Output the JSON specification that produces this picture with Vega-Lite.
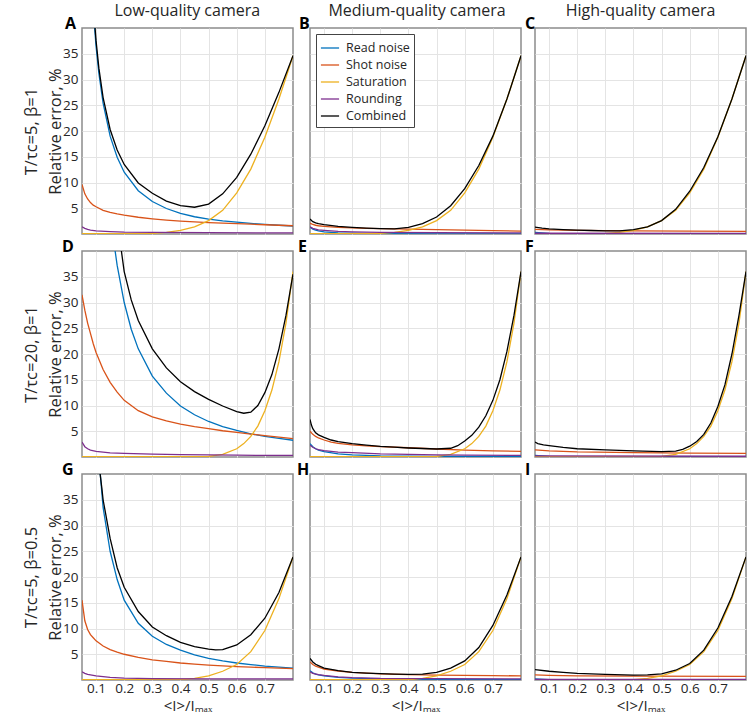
{
"$schema": "https://vega.github.io/schema/vega-lite/v6.json",
"background": "white",
"padding": {"left": 22, "top": 3, "right": 0, "bottom": 0},
"config": {
 "font": "Open Sans",
 "view": {"stroke": "#8c8c8c", "strokeWidth": 1.5},
 "axis": {"grid": true, "gridColor": "#e4e4e4", "ticks": false, "domain": false, "labelFontSize": 13.5, "labelColor": "#262626", "titleFontWeight": "normal", "titleFontSize": 16, "titleColor": "#262626", "labelPadding": 4},
 "title": {"frame": "group"},
 "line": {"clip": true}
},
"data": {"values": [
{"p":"A","s":"Read noise","x":0.08,"y":52},{"p":"A","s":"Read noise","x":0.09,"y":43.5},{"p":"A","s":"Read noise","x":0.1,"y":36.4},{"p":"A","s":"Read noise","x":0.11,"y":31.2},{"p":"A","s":"Read noise","x":0.125,"y":25.4},{"p":"A","s":"Read noise","x":0.15,"y":19.0},{"p":"A","s":"Read noise","x":0.175,"y":14.9},{"p":"A","s":"Read noise","x":0.2,"y":12.0},{"p":"A","s":"Read noise","x":0.25,"y":8.4},{"p":"A","s":"Read noise","x":0.3,"y":6.3},{"p":"A","s":"Read noise","x":0.35,"y":4.95},{"p":"A","s":"Read noise","x":0.4,"y":4.0},{"p":"A","s":"Read noise","x":0.45,"y":3.35},{"p":"A","s":"Read noise","x":0.5,"y":2.9},{"p":"A","s":"Read noise","x":0.55,"y":2.55},{"p":"A","s":"Read noise","x":0.6,"y":2.3},{"p":"A","s":"Read noise","x":0.65,"y":2.05},{"p":"A","s":"Read noise","x":0.7,"y":1.85},{"p":"A","s":"Read noise","x":0.75,"y":1.7},{"p":"A","s":"Read noise","x":0.8,"y":1.55},
{"p":"A","s":"Shot noise","x":0.05,"y":9.6},{"p":"A","s":"Shot noise","x":0.06,"y":7.8},{"p":"A","s":"Shot noise","x":0.07,"y":6.8},{"p":"A","s":"Shot noise","x":0.08,"y":6.1},{"p":"A","s":"Shot noise","x":0.09,"y":5.6},{"p":"A","s":"Shot noise","x":0.1,"y":5.3},{"p":"A","s":"Shot noise","x":0.125,"y":4.6},{"p":"A","s":"Shot noise","x":0.15,"y":4.2},{"p":"A","s":"Shot noise","x":0.175,"y":3.9},{"p":"A","s":"Shot noise","x":0.2,"y":3.65},{"p":"A","s":"Shot noise","x":0.25,"y":3.25},{"p":"A","s":"Shot noise","x":0.3,"y":2.95},{"p":"A","s":"Shot noise","x":0.35,"y":2.7},{"p":"A","s":"Shot noise","x":0.4,"y":2.5},{"p":"A","s":"Shot noise","x":0.45,"y":2.35},{"p":"A","s":"Shot noise","x":0.5,"y":2.2},{"p":"A","s":"Shot noise","x":0.55,"y":2.1},{"p":"A","s":"Shot noise","x":0.6,"y":2.0},{"p":"A","s":"Shot noise","x":0.65,"y":1.9},{"p":"A","s":"Shot noise","x":0.7,"y":1.8},{"p":"A","s":"Shot noise","x":0.75,"y":1.7},{"p":"A","s":"Shot noise","x":0.8,"y":1.6},
{"p":"A","s":"Saturation","x":0.05,"y":0.05},{"p":"A","s":"Saturation","x":0.25,"y":0.05},{"p":"A","s":"Saturation","x":0.3,"y":0.12},{"p":"A","s":"Saturation","x":0.35,"y":0.3},{"p":"A","s":"Saturation","x":0.4,"y":0.7},{"p":"A","s":"Saturation","x":0.45,"y":1.4},{"p":"A","s":"Saturation","x":0.5,"y":2.6},{"p":"A","s":"Saturation","x":0.55,"y":4.6},{"p":"A","s":"Saturation","x":0.6,"y":8.0},{"p":"A","s":"Saturation","x":0.65,"y":12.6},{"p":"A","s":"Saturation","x":0.7,"y":18.8},{"p":"A","s":"Saturation","x":0.75,"y":26.2},{"p":"A","s":"Saturation","x":0.8,"y":34.6},
{"p":"A","s":"Rounding","x":0.05,"y":1.4},{"p":"A","s":"Rounding","x":0.06,"y":1.1},{"p":"A","s":"Rounding","x":0.07,"y":0.9},{"p":"A","s":"Rounding","x":0.08,"y":0.75},{"p":"A","s":"Rounding","x":0.1,"y":0.6},{"p":"A","s":"Rounding","x":0.15,"y":0.45},{"p":"A","s":"Rounding","x":0.2,"y":0.35},{"p":"A","s":"Rounding","x":0.3,"y":0.3},{"p":"A","s":"Rounding","x":0.5,"y":0.25},{"p":"A","s":"Rounding","x":0.8,"y":0.22},
{"p":"A","s":"Combined","x":0.08,"y":52.5},{"p":"A","s":"Combined","x":0.09,"y":44.5},{"p":"A","s":"Combined","x":0.1,"y":37.5},{"p":"A","s":"Combined","x":0.11,"y":32.2},{"p":"A","s":"Combined","x":0.125,"y":26.5},{"p":"A","s":"Combined","x":0.15,"y":20.3},{"p":"A","s":"Combined","x":0.175,"y":16.3},{"p":"A","s":"Combined","x":0.2,"y":13.5},{"p":"A","s":"Combined","x":0.25,"y":9.9},{"p":"A","s":"Combined","x":0.3,"y":7.9},{"p":"A","s":"Combined","x":0.35,"y":6.4},{"p":"A","s":"Combined","x":0.4,"y":5.5},{"p":"A","s":"Combined","x":0.45,"y":5.2},{"p":"A","s":"Combined","x":0.5,"y":5.8},{"p":"A","s":"Combined","x":0.55,"y":7.8},{"p":"A","s":"Combined","x":0.6,"y":11.0},{"p":"A","s":"Combined","x":0.65,"y":15.5},{"p":"A","s":"Combined","x":0.7,"y":21.0},{"p":"A","s":"Combined","x":0.75,"y":27.5},{"p":"A","s":"Combined","x":0.8,"y":34.6},

{"p":"B","s":"Read noise","x":0.05,"y":1.3},{"p":"B","s":"Read noise","x":0.06,"y":0.95},{"p":"B","s":"Read noise","x":0.07,"y":0.75},{"p":"B","s":"Read noise","x":0.08,"y":0.6},{"p":"B","s":"Read noise","x":0.1,"y":0.4},{"p":"B","s":"Read noise","x":0.15,"y":0.22},{"p":"B","s":"Read noise","x":0.2,"y":0.15},{"p":"B","s":"Read noise","x":0.3,"y":0.08},{"p":"B","s":"Read noise","x":0.5,"y":0.04},{"p":"B","s":"Read noise","x":0.8,"y":0.02},
{"p":"B","s":"Shot noise","x":0.05,"y":2.1},{"p":"B","s":"Shot noise","x":0.06,"y":1.85},{"p":"B","s":"Shot noise","x":0.07,"y":1.7},{"p":"B","s":"Shot noise","x":0.08,"y":1.6},{"p":"B","s":"Shot noise","x":0.1,"y":1.5},{"p":"B","s":"Shot noise","x":0.15,"y":1.3},{"p":"B","s":"Shot noise","x":0.2,"y":1.2},{"p":"B","s":"Shot noise","x":0.25,"y":1.1},{"p":"B","s":"Shot noise","x":0.3,"y":1.05},{"p":"B","s":"Shot noise","x":0.4,"y":0.95},{"p":"B","s":"Shot noise","x":0.5,"y":0.85},{"p":"B","s":"Shot noise","x":0.6,"y":0.75},{"p":"B","s":"Shot noise","x":0.7,"y":0.65},{"p":"B","s":"Shot noise","x":0.8,"y":0.55},
{"p":"B","s":"Saturation","x":0.05,"y":0.05},{"p":"B","s":"Saturation","x":0.25,"y":0.05},{"p":"B","s":"Saturation","x":0.3,"y":0.12},{"p":"B","s":"Saturation","x":0.35,"y":0.3},{"p":"B","s":"Saturation","x":0.4,"y":0.7},{"p":"B","s":"Saturation","x":0.45,"y":1.4},{"p":"B","s":"Saturation","x":0.5,"y":2.6},{"p":"B","s":"Saturation","x":0.55,"y":4.6},{"p":"B","s":"Saturation","x":0.6,"y":8.0},{"p":"B","s":"Saturation","x":0.65,"y":12.6},{"p":"B","s":"Saturation","x":0.7,"y":18.8},{"p":"B","s":"Saturation","x":0.75,"y":26.2},{"p":"B","s":"Saturation","x":0.8,"y":34.6},
{"p":"B","s":"Rounding","x":0.05,"y":1.4},{"p":"B","s":"Rounding","x":0.06,"y":1.1},{"p":"B","s":"Rounding","x":0.07,"y":0.95},{"p":"B","s":"Rounding","x":0.08,"y":0.8},{"p":"B","s":"Rounding","x":0.1,"y":0.7},{"p":"B","s":"Rounding","x":0.15,"y":0.5},{"p":"B","s":"Rounding","x":0.2,"y":0.4},{"p":"B","s":"Rounding","x":0.3,"y":0.3},{"p":"B","s":"Rounding","x":0.5,"y":0.25},{"p":"B","s":"Rounding","x":0.8,"y":0.22},
{"p":"B","s":"Combined","x":0.05,"y":2.9},{"p":"B","s":"Combined","x":0.06,"y":2.4},{"p":"B","s":"Combined","x":0.07,"y":2.15},{"p":"B","s":"Combined","x":0.08,"y":2.0},{"p":"B","s":"Combined","x":0.1,"y":1.8},{"p":"B","s":"Combined","x":0.15,"y":1.5},{"p":"B","s":"Combined","x":0.2,"y":1.3},{"p":"B","s":"Combined","x":0.25,"y":1.15},{"p":"B","s":"Combined","x":0.3,"y":1.05},{"p":"B","s":"Combined","x":0.35,"y":1.0},{"p":"B","s":"Combined","x":0.4,"y":1.3},{"p":"B","s":"Combined","x":0.45,"y":2.0},{"p":"B","s":"Combined","x":0.5,"y":3.3},{"p":"B","s":"Combined","x":0.55,"y":5.5},{"p":"B","s":"Combined","x":0.6,"y":8.8},{"p":"B","s":"Combined","x":0.65,"y":13.3},{"p":"B","s":"Combined","x":0.7,"y":19.0},{"p":"B","s":"Combined","x":0.75,"y":26.2},{"p":"B","s":"Combined","x":0.8,"y":34.6},

{"p":"C","s":"Read noise","x":0.05,"y":0.3},{"p":"C","s":"Read noise","x":0.1,"y":0.1},{"p":"C","s":"Read noise","x":0.2,"y":0.04},{"p":"C","s":"Read noise","x":0.8,"y":0.01},
{"p":"C","s":"Shot noise","x":0.05,"y":0.9},{"p":"C","s":"Shot noise","x":0.1,"y":0.8},{"p":"C","s":"Shot noise","x":0.2,"y":0.7},{"p":"C","s":"Shot noise","x":0.4,"y":0.6},{"p":"C","s":"Shot noise","x":0.8,"y":0.5},
{"p":"C","s":"Saturation","x":0.05,"y":0.05},{"p":"C","s":"Saturation","x":0.25,"y":0.05},{"p":"C","s":"Saturation","x":0.3,"y":0.12},{"p":"C","s":"Saturation","x":0.35,"y":0.3},{"p":"C","s":"Saturation","x":0.4,"y":0.7},{"p":"C","s":"Saturation","x":0.45,"y":1.4},{"p":"C","s":"Saturation","x":0.5,"y":2.6},{"p":"C","s":"Saturation","x":0.55,"y":4.6},{"p":"C","s":"Saturation","x":0.6,"y":8.0},{"p":"C","s":"Saturation","x":0.65,"y":12.6},{"p":"C","s":"Saturation","x":0.7,"y":18.8},{"p":"C","s":"Saturation","x":0.75,"y":26.2},{"p":"C","s":"Saturation","x":0.8,"y":34.6},
{"p":"C","s":"Rounding","x":0.05,"y":0.15},{"p":"C","s":"Rounding","x":0.8,"y":0.1},
{"p":"C","s":"Combined","x":0.05,"y":1.35},{"p":"C","s":"Combined","x":0.075,"y":1.15},{"p":"C","s":"Combined","x":0.1,"y":1.0},{"p":"C","s":"Combined","x":0.15,"y":0.85},{"p":"C","s":"Combined","x":0.2,"y":0.75},{"p":"C","s":"Combined","x":0.25,"y":0.68},{"p":"C","s":"Combined","x":0.3,"y":0.62},{"p":"C","s":"Combined","x":0.35,"y":0.62},{"p":"C","s":"Combined","x":0.4,"y":0.85},{"p":"C","s":"Combined","x":0.45,"y":1.4},{"p":"C","s":"Combined","x":0.5,"y":2.6},{"p":"C","s":"Combined","x":0.55,"y":4.8},{"p":"C","s":"Combined","x":0.6,"y":8.3},{"p":"C","s":"Combined","x":0.65,"y":12.9},{"p":"C","s":"Combined","x":0.7,"y":18.9},{"p":"C","s":"Combined","x":0.75,"y":26.2},{"p":"C","s":"Combined","x":0.8,"y":34.6},

{"p":"D","s":"Read noise","x":0.16,"y":43},{"p":"D","s":"Read noise","x":0.175,"y":37.2},{"p":"D","s":"Read noise","x":0.2,"y":30},{"p":"D","s":"Read noise","x":0.225,"y":24.8},{"p":"D","s":"Read noise","x":0.25,"y":21.0},{"p":"D","s":"Read noise","x":0.3,"y":15.7},{"p":"D","s":"Read noise","x":0.35,"y":12.4},{"p":"D","s":"Read noise","x":0.4,"y":9.9},{"p":"D","s":"Read noise","x":0.45,"y":8.2},{"p":"D","s":"Read noise","x":0.5,"y":6.9},{"p":"D","s":"Read noise","x":0.55,"y":5.9},{"p":"D","s":"Read noise","x":0.6,"y":5.15},{"p":"D","s":"Read noise","x":0.65,"y":4.5},{"p":"D","s":"Read noise","x":0.7,"y":4.0},{"p":"D","s":"Read noise","x":0.75,"y":3.6},{"p":"D","s":"Read noise","x":0.8,"y":3.25},
{"p":"D","s":"Shot noise","x":0.05,"y":31.5},{"p":"D","s":"Shot noise","x":0.06,"y":28.5},{"p":"D","s":"Shot noise","x":0.07,"y":26},{"p":"D","s":"Shot noise","x":0.08,"y":24},{"p":"D","s":"Shot noise","x":0.09,"y":22},{"p":"D","s":"Shot noise","x":0.1,"y":20.3},{"p":"D","s":"Shot noise","x":0.125,"y":17},{"p":"D","s":"Shot noise","x":0.15,"y":14.5},{"p":"D","s":"Shot noise","x":0.175,"y":12.6},{"p":"D","s":"Shot noise","x":0.2,"y":11.0},{"p":"D","s":"Shot noise","x":0.25,"y":9.0},{"p":"D","s":"Shot noise","x":0.3,"y":7.8},{"p":"D","s":"Shot noise","x":0.35,"y":7.0},{"p":"D","s":"Shot noise","x":0.4,"y":6.4},{"p":"D","s":"Shot noise","x":0.45,"y":5.9},{"p":"D","s":"Shot noise","x":0.5,"y":5.5},{"p":"D","s":"Shot noise","x":0.55,"y":5.1},{"p":"D","s":"Shot noise","x":0.6,"y":4.8},{"p":"D","s":"Shot noise","x":0.65,"y":4.45},{"p":"D","s":"Shot noise","x":0.7,"y":4.15},{"p":"D","s":"Shot noise","x":0.75,"y":3.85},{"p":"D","s":"Shot noise","x":0.8,"y":3.55},
{"p":"D","s":"Saturation","x":0.05,"y":0.05},{"p":"D","s":"Saturation","x":0.45,"y":0.05},{"p":"D","s":"Saturation","x":0.5,"y":0.1},{"p":"D","s":"Saturation","x":0.55,"y":0.5},{"p":"D","s":"Saturation","x":0.6,"y":1.6},{"p":"D","s":"Saturation","x":0.625,"y":2.6},{"p":"D","s":"Saturation","x":0.65,"y":4.0},{"p":"D","s":"Saturation","x":0.675,"y":6.0},{"p":"D","s":"Saturation","x":0.7,"y":9.0},{"p":"D","s":"Saturation","x":0.725,"y":13.0},{"p":"D","s":"Saturation","x":0.75,"y":18.5},{"p":"D","s":"Saturation","x":0.775,"y":26},{"p":"D","s":"Saturation","x":0.8,"y":36},
{"p":"D","s":"Rounding","x":0.05,"y":2.9},{"p":"D","s":"Rounding","x":0.06,"y":2.0},{"p":"D","s":"Rounding","x":0.07,"y":1.6},{"p":"D","s":"Rounding","x":0.08,"y":1.35},{"p":"D","s":"Rounding","x":0.1,"y":1.1},{"p":"D","s":"Rounding","x":0.15,"y":0.8},{"p":"D","s":"Rounding","x":0.2,"y":0.7},{"p":"D","s":"Rounding","x":0.3,"y":0.55},{"p":"D","s":"Rounding","x":0.4,"y":0.45},{"p":"D","s":"Rounding","x":0.5,"y":0.4},{"p":"D","s":"Rounding","x":0.6,"y":0.35},{"p":"D","s":"Rounding","x":0.8,"y":0.3},
{"p":"D","s":"Combined","x":0.18,"y":44},{"p":"D","s":"Combined","x":0.19,"y":40},{"p":"D","s":"Combined","x":0.2,"y":36},{"p":"D","s":"Combined","x":0.225,"y":30.5},{"p":"D","s":"Combined","x":0.25,"y":26.5},{"p":"D","s":"Combined","x":0.3,"y":21},{"p":"D","s":"Combined","x":0.35,"y":17.3},{"p":"D","s":"Combined","x":0.4,"y":14.6},{"p":"D","s":"Combined","x":0.45,"y":12.7},{"p":"D","s":"Combined","x":0.5,"y":11.2},{"p":"D","s":"Combined","x":0.55,"y":9.9},{"p":"D","s":"Combined","x":0.6,"y":8.8},{"p":"D","s":"Combined","x":0.625,"y":8.5},{"p":"D","s":"Combined","x":0.65,"y":8.7},{"p":"D","s":"Combined","x":0.675,"y":10.0},{"p":"D","s":"Combined","x":0.7,"y":12.5},{"p":"D","s":"Combined","x":0.725,"y":16},{"p":"D","s":"Combined","x":0.75,"y":21},{"p":"D","s":"Combined","x":0.775,"y":27.5},{"p":"D","s":"Combined","x":0.8,"y":35.5},

{"p":"E","s":"Read noise","x":0.05,"y":2.6},{"p":"E","s":"Read noise","x":0.06,"y":2.0},{"p":"E","s":"Read noise","x":0.07,"y":1.6},{"p":"E","s":"Read noise","x":0.08,"y":1.35},{"p":"E","s":"Read noise","x":0.1,"y":1.05},{"p":"E","s":"Read noise","x":0.15,"y":0.6},{"p":"E","s":"Read noise","x":0.2,"y":0.4},{"p":"E","s":"Read noise","x":0.3,"y":0.2},{"p":"E","s":"Read noise","x":0.5,"y":0.1},{"p":"E","s":"Read noise","x":0.8,"y":0.05},
{"p":"E","s":"Shot noise","x":0.05,"y":5.0},{"p":"E","s":"Shot noise","x":0.06,"y":4.4},{"p":"E","s":"Shot noise","x":0.07,"y":4.0},{"p":"E","s":"Shot noise","x":0.08,"y":3.7},{"p":"E","s":"Shot noise","x":0.1,"y":3.3},{"p":"E","s":"Shot noise","x":0.125,"y":2.9},{"p":"E","s":"Shot noise","x":0.15,"y":2.65},{"p":"E","s":"Shot noise","x":0.2,"y":2.35},{"p":"E","s":"Shot noise","x":0.25,"y":2.15},{"p":"E","s":"Shot noise","x":0.3,"y":2.0},{"p":"E","s":"Shot noise","x":0.4,"y":1.8},{"p":"E","s":"Shot noise","x":0.5,"y":1.55},{"p":"E","s":"Shot noise","x":0.6,"y":1.35},{"p":"E","s":"Shot noise","x":0.7,"y":1.2},{"p":"E","s":"Shot noise","x":0.8,"y":1.1},
{"p":"E","s":"Saturation","x":0.05,"y":0.05},{"p":"E","s":"Saturation","x":0.45,"y":0.05},{"p":"E","s":"Saturation","x":0.5,"y":0.1},{"p":"E","s":"Saturation","x":0.55,"y":0.5},{"p":"E","s":"Saturation","x":0.6,"y":1.6},{"p":"E","s":"Saturation","x":0.625,"y":2.6},{"p":"E","s":"Saturation","x":0.65,"y":4.0},{"p":"E","s":"Saturation","x":0.675,"y":6.0},{"p":"E","s":"Saturation","x":0.7,"y":9.0},{"p":"E","s":"Saturation","x":0.725,"y":13.0},{"p":"E","s":"Saturation","x":0.75,"y":18.5},{"p":"E","s":"Saturation","x":0.775,"y":26},{"p":"E","s":"Saturation","x":0.8,"y":36},
{"p":"E","s":"Rounding","x":0.05,"y":2.3},{"p":"E","s":"Rounding","x":0.06,"y":1.9},{"p":"E","s":"Rounding","x":0.07,"y":1.6},{"p":"E","s":"Rounding","x":0.08,"y":1.45},{"p":"E","s":"Rounding","x":0.1,"y":1.25},{"p":"E","s":"Rounding","x":0.15,"y":0.95},{"p":"E","s":"Rounding","x":0.2,"y":0.85},{"p":"E","s":"Rounding","x":0.3,"y":0.6},{"p":"E","s":"Rounding","x":0.4,"y":0.5},{"p":"E","s":"Rounding","x":0.5,"y":0.42},{"p":"E","s":"Rounding","x":0.6,"y":0.38},{"p":"E","s":"Rounding","x":0.8,"y":0.32},
{"p":"E","s":"Combined","x":0.05,"y":7.3},{"p":"E","s":"Combined","x":0.055,"y":6.2},{"p":"E","s":"Combined","x":0.06,"y":5.5},{"p":"E","s":"Combined","x":0.07,"y":4.7},{"p":"E","s":"Combined","x":0.08,"y":4.3},{"p":"E","s":"Combined","x":0.1,"y":3.8},{"p":"E","s":"Combined","x":0.125,"y":3.3},{"p":"E","s":"Combined","x":0.15,"y":3.0},{"p":"E","s":"Combined","x":0.2,"y":2.6},{"p":"E","s":"Combined","x":0.25,"y":2.3},{"p":"E","s":"Combined","x":0.3,"y":2.05},{"p":"E","s":"Combined","x":0.35,"y":1.9},{"p":"E","s":"Combined","x":0.4,"y":1.75},{"p":"E","s":"Combined","x":0.45,"y":1.65},{"p":"E","s":"Combined","x":0.5,"y":1.55},{"p":"E","s":"Combined","x":0.55,"y":1.7},{"p":"E","s":"Combined","x":0.575,"y":2.2},{"p":"E","s":"Combined","x":0.6,"y":3.1},{"p":"E","s":"Combined","x":0.625,"y":4.2},{"p":"E","s":"Combined","x":0.65,"y":5.8},{"p":"E","s":"Combined","x":0.675,"y":8.0},{"p":"E","s":"Combined","x":0.7,"y":11},{"p":"E","s":"Combined","x":0.725,"y":15},{"p":"E","s":"Combined","x":0.75,"y":20.5},{"p":"E","s":"Combined","x":0.775,"y":27.5},{"p":"E","s":"Combined","x":0.8,"y":36},

{"p":"F","s":"Read noise","x":0.05,"y":0.3},{"p":"F","s":"Read noise","x":0.1,"y":0.1},{"p":"F","s":"Read noise","x":0.8,"y":0.01},
{"p":"F","s":"Shot noise","x":0.05,"y":1.4},{"p":"F","s":"Shot noise","x":0.1,"y":1.2},{"p":"F","s":"Shot noise","x":0.2,"y":1.0},{"p":"F","s":"Shot noise","x":0.4,"y":0.85},{"p":"F","s":"Shot noise","x":0.6,"y":0.75},{"p":"F","s":"Shot noise","x":0.8,"y":0.7},
{"p":"F","s":"Saturation","x":0.05,"y":0.05},{"p":"F","s":"Saturation","x":0.45,"y":0.05},{"p":"F","s":"Saturation","x":0.5,"y":0.1},{"p":"F","s":"Saturation","x":0.55,"y":0.5},{"p":"F","s":"Saturation","x":0.6,"y":1.6},{"p":"F","s":"Saturation","x":0.625,"y":2.6},{"p":"F","s":"Saturation","x":0.65,"y":4.0},{"p":"F","s":"Saturation","x":0.675,"y":6.0},{"p":"F","s":"Saturation","x":0.7,"y":9.0},{"p":"F","s":"Saturation","x":0.725,"y":13.0},{"p":"F","s":"Saturation","x":0.75,"y":18.5},{"p":"F","s":"Saturation","x":0.775,"y":26},{"p":"F","s":"Saturation","x":0.8,"y":36},
{"p":"F","s":"Rounding","x":0.05,"y":0.2},{"p":"F","s":"Rounding","x":0.8,"y":0.15},
{"p":"F","s":"Combined","x":0.05,"y":2.9},{"p":"F","s":"Combined","x":0.06,"y":2.6},{"p":"F","s":"Combined","x":0.08,"y":2.35},{"p":"F","s":"Combined","x":0.1,"y":2.2},{"p":"F","s":"Combined","x":0.15,"y":1.85},{"p":"F","s":"Combined","x":0.2,"y":1.6},{"p":"F","s":"Combined","x":0.3,"y":1.4},{"p":"F","s":"Combined","x":0.4,"y":1.2},{"p":"F","s":"Combined","x":0.5,"y":1.05},{"p":"F","s":"Combined","x":0.55,"y":1.15},{"p":"F","s":"Combined","x":0.575,"y":1.5},{"p":"F","s":"Combined","x":0.6,"y":2.1},{"p":"F","s":"Combined","x":0.625,"y":3.0},{"p":"F","s":"Combined","x":0.65,"y":4.4},{"p":"F","s":"Combined","x":0.675,"y":6.6},{"p":"F","s":"Combined","x":0.7,"y":9.8},{"p":"F","s":"Combined","x":0.725,"y":14},{"p":"F","s":"Combined","x":0.75,"y":20},{"p":"F","s":"Combined","x":0.775,"y":27.5},{"p":"F","s":"Combined","x":0.8,"y":36},

{"p":"G","s":"Read noise","x":0.108,"y":46},{"p":"G","s":"Read noise","x":0.112,"y":42},{"p":"G","s":"Read noise","x":0.118,"y":38},{"p":"G","s":"Read noise","x":0.125,"y":33.5},{"p":"G","s":"Read noise","x":0.15,"y":25},{"p":"G","s":"Read noise","x":0.175,"y":19.5},{"p":"G","s":"Read noise","x":0.2,"y":15.5},{"p":"G","s":"Read noise","x":0.25,"y":11.0},{"p":"G","s":"Read noise","x":0.3,"y":8.5},{"p":"G","s":"Read noise","x":0.35,"y":6.9},{"p":"G","s":"Read noise","x":0.4,"y":5.8},{"p":"G","s":"Read noise","x":0.45,"y":4.9},{"p":"G","s":"Read noise","x":0.5,"y":4.2},{"p":"G","s":"Read noise","x":0.55,"y":3.7},{"p":"G","s":"Read noise","x":0.6,"y":3.3},{"p":"G","s":"Read noise","x":0.65,"y":3.0},{"p":"G","s":"Read noise","x":0.7,"y":2.7},{"p":"G","s":"Read noise","x":0.75,"y":2.5},{"p":"G","s":"Read noise","x":0.8,"y":2.3},
{"p":"G","s":"Shot noise","x":0.05,"y":15.5},{"p":"G","s":"Shot noise","x":0.06,"y":11.5},{"p":"G","s":"Shot noise","x":0.07,"y":9.8},{"p":"G","s":"Shot noise","x":0.08,"y":8.8},{"p":"G","s":"Shot noise","x":0.09,"y":8.2},{"p":"G","s":"Shot noise","x":0.1,"y":7.6},{"p":"G","s":"Shot noise","x":0.125,"y":6.6},{"p":"G","s":"Shot noise","x":0.15,"y":5.9},{"p":"G","s":"Shot noise","x":0.175,"y":5.4},{"p":"G","s":"Shot noise","x":0.2,"y":5.0},{"p":"G","s":"Shot noise","x":0.25,"y":4.4},{"p":"G","s":"Shot noise","x":0.3,"y":3.9},{"p":"G","s":"Shot noise","x":0.35,"y":3.6},{"p":"G","s":"Shot noise","x":0.4,"y":3.3},{"p":"G","s":"Shot noise","x":0.45,"y":3.1},{"p":"G","s":"Shot noise","x":0.5,"y":2.9},{"p":"G","s":"Shot noise","x":0.55,"y":2.75},{"p":"G","s":"Shot noise","x":0.6,"y":2.6},{"p":"G","s":"Shot noise","x":0.65,"y":2.5},{"p":"G","s":"Shot noise","x":0.7,"y":2.4},{"p":"G","s":"Shot noise","x":0.75,"y":2.3},{"p":"G","s":"Shot noise","x":0.8,"y":2.2},
{"p":"G","s":"Saturation","x":0.05,"y":0.05},{"p":"G","s":"Saturation","x":0.4,"y":0.05},{"p":"G","s":"Saturation","x":0.45,"y":0.3},{"p":"G","s":"Saturation","x":0.5,"y":0.8},{"p":"G","s":"Saturation","x":0.55,"y":1.7},{"p":"G","s":"Saturation","x":0.6,"y":3.0},{"p":"G","s":"Saturation","x":0.65,"y":5.5},{"p":"G","s":"Saturation","x":0.7,"y":9.6},{"p":"G","s":"Saturation","x":0.75,"y":15.8},{"p":"G","s":"Saturation","x":0.8,"y":23.9},
{"p":"G","s":"Rounding","x":0.05,"y":1.6},{"p":"G","s":"Rounding","x":0.06,"y":1.3},{"p":"G","s":"Rounding","x":0.07,"y":1.1},{"p":"G","s":"Rounding","x":0.08,"y":1.0},{"p":"G","s":"Rounding","x":0.1,"y":0.8},{"p":"G","s":"Rounding","x":0.15,"y":0.5},{"p":"G","s":"Rounding","x":0.2,"y":0.35},{"p":"G","s":"Rounding","x":0.3,"y":0.28},{"p":"G","s":"Rounding","x":0.5,"y":0.22},{"p":"G","s":"Rounding","x":0.8,"y":0.2},
{"p":"G","s":"Combined","x":0.105,"y":46},{"p":"G","s":"Combined","x":0.11,"y":42},{"p":"G","s":"Combined","x":0.12,"y":37.5},{"p":"G","s":"Combined","x":0.125,"y":35},{"p":"G","s":"Combined","x":0.15,"y":27.5},{"p":"G","s":"Combined","x":0.175,"y":21.8},{"p":"G","s":"Combined","x":0.2,"y":18},{"p":"G","s":"Combined","x":0.25,"y":13.3},{"p":"G","s":"Combined","x":0.3,"y":10.3},{"p":"G","s":"Combined","x":0.35,"y":8.6},{"p":"G","s":"Combined","x":0.4,"y":7.3},{"p":"G","s":"Combined","x":0.45,"y":6.5},{"p":"G","s":"Combined","x":0.5,"y":6.0},{"p":"G","s":"Combined","x":0.525,"y":5.85},{"p":"G","s":"Combined","x":0.55,"y":5.9},{"p":"G","s":"Combined","x":0.6,"y":6.8},{"p":"G","s":"Combined","x":0.65,"y":8.8},{"p":"G","s":"Combined","x":0.7,"y":12.0},{"p":"G","s":"Combined","x":0.75,"y":17},{"p":"G","s":"Combined","x":0.8,"y":23.9},

{"p":"H","s":"Read noise","x":0.05,"y":1.8},{"p":"H","s":"Read noise","x":0.06,"y":1.4},{"p":"H","s":"Read noise","x":0.07,"y":1.15},{"p":"H","s":"Read noise","x":0.08,"y":1.0},{"p":"H","s":"Read noise","x":0.1,"y":0.8},{"p":"H","s":"Read noise","x":0.15,"y":0.5},{"p":"H","s":"Read noise","x":0.2,"y":0.35},{"p":"H","s":"Read noise","x":0.3,"y":0.2},{"p":"H","s":"Read noise","x":0.5,"y":0.1},{"p":"H","s":"Read noise","x":0.8,"y":0.05},
{"p":"H","s":"Shot noise","x":0.05,"y":3.5},{"p":"H","s":"Shot noise","x":0.06,"y":3.0},{"p":"H","s":"Shot noise","x":0.07,"y":2.7},{"p":"H","s":"Shot noise","x":0.08,"y":2.5},{"p":"H","s":"Shot noise","x":0.1,"y":2.1},{"p":"H","s":"Shot noise","x":0.15,"y":1.75},{"p":"H","s":"Shot noise","x":0.2,"y":1.5},{"p":"H","s":"Shot noise","x":0.3,"y":1.2},{"p":"H","s":"Shot noise","x":0.4,"y":1.05},{"p":"H","s":"Shot noise","x":0.5,"y":0.95},{"p":"H","s":"Shot noise","x":0.6,"y":0.9},{"p":"H","s":"Shot noise","x":0.7,"y":0.85},{"p":"H","s":"Shot noise","x":0.8,"y":0.8},
{"p":"H","s":"Saturation","x":0.05,"y":0.05},{"p":"H","s":"Saturation","x":0.4,"y":0.05},{"p":"H","s":"Saturation","x":0.45,"y":0.3},{"p":"H","s":"Saturation","x":0.5,"y":0.8},{"p":"H","s":"Saturation","x":0.55,"y":1.7},{"p":"H","s":"Saturation","x":0.6,"y":3.0},{"p":"H","s":"Saturation","x":0.65,"y":5.5},{"p":"H","s":"Saturation","x":0.7,"y":9.6},{"p":"H","s":"Saturation","x":0.75,"y":15.8},{"p":"H","s":"Saturation","x":0.8,"y":23.9},
{"p":"H","s":"Rounding","x":0.05,"y":1.6},{"p":"H","s":"Rounding","x":0.06,"y":1.3},{"p":"H","s":"Rounding","x":0.08,"y":1.05},{"p":"H","s":"Rounding","x":0.1,"y":0.9},{"p":"H","s":"Rounding","x":0.15,"y":0.6},{"p":"H","s":"Rounding","x":0.2,"y":0.45},{"p":"H","s":"Rounding","x":0.3,"y":0.3},{"p":"H","s":"Rounding","x":0.5,"y":0.25},{"p":"H","s":"Rounding","x":0.8,"y":0.22},
{"p":"H","s":"Combined","x":0.05,"y":4.2},{"p":"H","s":"Combined","x":0.06,"y":3.5},{"p":"H","s":"Combined","x":0.07,"y":3.05},{"p":"H","s":"Combined","x":0.08,"y":2.8},{"p":"H","s":"Combined","x":0.1,"y":2.3},{"p":"H","s":"Combined","x":0.15,"y":1.8},{"p":"H","s":"Combined","x":0.2,"y":1.5},{"p":"H","s":"Combined","x":0.25,"y":1.35},{"p":"H","s":"Combined","x":0.3,"y":1.25},{"p":"H","s":"Combined","x":0.35,"y":1.15},{"p":"H","s":"Combined","x":0.4,"y":1.1},{"p":"H","s":"Combined","x":0.45,"y":1.15},{"p":"H","s":"Combined","x":0.5,"y":1.5},{"p":"H","s":"Combined","x":0.55,"y":2.3},{"p":"H","s":"Combined","x":0.6,"y":3.7},{"p":"H","s":"Combined","x":0.65,"y":6.3},{"p":"H","s":"Combined","x":0.7,"y":10.6},{"p":"H","s":"Combined","x":0.75,"y":16.5},{"p":"H","s":"Combined","x":0.8,"y":23.9},

{"p":"I","s":"Read noise","x":0.05,"y":0.2},{"p":"I","s":"Read noise","x":0.1,"y":0.08},{"p":"I","s":"Read noise","x":0.8,"y":0.01},
{"p":"I","s":"Shot noise","x":0.05,"y":1.0},{"p":"I","s":"Shot noise","x":0.1,"y":0.9},{"p":"I","s":"Shot noise","x":0.2,"y":0.8},{"p":"I","s":"Shot noise","x":0.4,"y":0.75},{"p":"I","s":"Shot noise","x":0.8,"y":0.7},
{"p":"I","s":"Saturation","x":0.05,"y":0.05},{"p":"I","s":"Saturation","x":0.4,"y":0.05},{"p":"I","s":"Saturation","x":0.45,"y":0.3},{"p":"I","s":"Saturation","x":0.5,"y":0.8},{"p":"I","s":"Saturation","x":0.55,"y":1.7},{"p":"I","s":"Saturation","x":0.6,"y":3.0},{"p":"I","s":"Saturation","x":0.65,"y":5.5},{"p":"I","s":"Saturation","x":0.7,"y":9.6},{"p":"I","s":"Saturation","x":0.75,"y":15.8},{"p":"I","s":"Saturation","x":0.8,"y":23.9},
{"p":"I","s":"Rounding","x":0.05,"y":0.12},{"p":"I","s":"Rounding","x":0.8,"y":0.1},
{"p":"I","s":"Combined","x":0.05,"y":2.0},{"p":"I","s":"Combined","x":0.1,"y":1.7},{"p":"I","s":"Combined","x":0.15,"y":1.5},{"p":"I","s":"Combined","x":0.2,"y":1.3},{"p":"I","s":"Combined","x":0.3,"y":1.1},{"p":"I","s":"Combined","x":0.4,"y":0.95},{"p":"I","s":"Combined","x":0.45,"y":1.0},{"p":"I","s":"Combined","x":0.5,"y":1.2},{"p":"I","s":"Combined","x":0.55,"y":1.9},{"p":"I","s":"Combined","x":0.6,"y":3.2},{"p":"I","s":"Combined","x":0.65,"y":5.8},{"p":"I","s":"Combined","x":0.7,"y":10.1},{"p":"I","s":"Combined","x":0.75,"y":16.2},{"p":"I","s":"Combined","x":0.8,"y":23.9}
]},
"spacing": 2,
"resolve": {"scale": {"color": "independent", "strokeWidth": "independent"}, "legend": {"color": "independent", "strokeWidth": "independent"}},
"hconcat": [
 {"title": {"text": "Low-quality camera", "anchor": "middle", "frame": "bounds", "dx": 29, "fontSize": 16, "fontWeight": "normal", "color": "#262626", "offset": -4},
  "bounds": "flush", "spacing": 17,
  "resolve": {"scale": {"color": "independent", "strokeWidth": "independent"}, "legend": {"color": "independent", "strokeWidth": "independent"}},
  "vconcat": [
  {"title": {"text": "A", "anchor": "start", "frame": "group", "dx": -17, "offset": -4, "fontSize": 16, "fontWeight": "bold"},
   "width": 211, "height": 206,
   "transform": [{"filter": "datum.p === 'A'"}],
   "mark": {"type": "line", "clip": true},
   "encoding": {
    "x": {"field": "x", "type": "quantitative", "scale": {"domain": [0.05, 0.8], "nice": false, "zero": false}, "axis": {"values": [0.1,0.2,0.3,0.4,0.5,0.6,0.7], "labels": false, "title": null}},
    "y": {"field": "y", "type": "quantitative", "scale": {"domain": [0, 40], "nice": false}, "axis": {"values": [5,10,15,20,25,30,35], "title": ["T/τc=5, β=1", "Relative error, %"], "titleLineHeight": 24, "titlePadding": -1, "titleFontSize": 16.5}},
    "color": {"field": "s", "type": "nominal", "scale": {"domain": ["Read noise","Shot noise","Saturation","Rounding","Combined"], "range": ["#0072BD","#D95319","#EDB120","#7E2F8E","#000000"]}, "legend": null},
    "strokeWidth": {"field": "s", "type": "nominal", "scale": {"domain": ["Read noise","Shot noise","Saturation","Rounding","Combined"], "range": [1.3,1.3,1.3,1.3,1.8]}, "legend": null}
   }},
  {"title": {"text": "D", "anchor": "start", "frame": "group", "dx": -20, "offset": -4, "fontSize": 16, "fontWeight": "bold"},
   "width": 211, "height": 206,
   "transform": [{"filter": "datum.p === 'D'"}],
   "mark": {"type": "line", "clip": true},
   "encoding": {
    "x": {"field": "x", "type": "quantitative", "scale": {"domain": [0.05, 0.8], "nice": false, "zero": false}, "axis": {"values": [0.1,0.2,0.3,0.4,0.5,0.6,0.7], "labels": false, "title": null}},
    "y": {"field": "y", "type": "quantitative", "scale": {"domain": [0, 40], "nice": false}, "axis": {"values": [5,10,15,20,25,30,35], "title": ["T/τc=20, β=1", "Relative error, %"], "titleLineHeight": 24, "titlePadding": -1, "titleFontSize": 16.5}},
    "color": {"field": "s", "type": "nominal", "scale": {"domain": ["Read noise","Shot noise","Saturation","Rounding","Combined"], "range": ["#0072BD","#D95319","#EDB120","#7E2F8E","#000000"]}, "legend": null},
    "strokeWidth": {"field": "s", "type": "nominal", "scale": {"domain": ["Read noise","Shot noise","Saturation","Rounding","Combined"], "range": [1.3,1.3,1.3,1.3,1.8]}, "legend": null}
   }},
  {"title": {"text": "G", "anchor": "start", "frame": "group", "dx": -20, "offset": -4, "fontSize": 16, "fontWeight": "bold"},
   "width": 211, "height": 206,
   "transform": [{"filter": "datum.p === 'G'"}],
   "mark": {"type": "line", "clip": true},
   "encoding": {
    "x": {"field": "x", "type": "quantitative", "scale": {"domain": [0.05, 0.8], "nice": false, "zero": false}, "axis": {"values": [0.1,0.2,0.3,0.4,0.5,0.6,0.7], "format": ".1f", "title": "<I>/Iₘₐₓ", "titleFontSize": 15, "titlePadding": 4, "labelPadding": 1}},
    "y": {"field": "y", "type": "quantitative", "scale": {"domain": [0, 40], "nice": false}, "axis": {"values": [5,10,15,20,25,30,35], "title": ["T/τc=5, β=0.5", "Relative error, %"], "titleLineHeight": 24, "titlePadding": -1, "titleFontSize": 16.5}},
    "color": {"field": "s", "type": "nominal", "scale": {"domain": ["Read noise","Shot noise","Saturation","Rounding","Combined"], "range": ["#0072BD","#D95319","#EDB120","#7E2F8E","#000000"]}, "legend": null},
    "strokeWidth": {"field": "s", "type": "nominal", "scale": {"domain": ["Read noise","Shot noise","Saturation","Rounding","Combined"], "range": [1.3,1.3,1.3,1.3,1.8]}, "legend": null}
   }}
 ]},
 {"title": {"text": "Medium-quality camera", "anchor": "middle", "frame": "bounds", "dx": 8, "fontSize": 16, "fontWeight": "normal", "color": "#262626", "offset": -4},
  "bounds": "flush", "spacing": 17,
  "resolve": {"scale": {"color": "independent", "strokeWidth": "independent"}, "legend": {"color": "independent", "strokeWidth": "independent"}},
  "vconcat": [
  {"title": {"text": "B", "anchor": "start", "frame": "group", "dx": -11, "offset": -4, "fontSize": 16, "fontWeight": "bold"},
   "width": 211, "height": 206,
   "transform": [{"filter": "datum.p === 'B'"}],
   "mark": {"type": "line", "clip": true},
   "encoding": {
    "x": {"field": "x", "type": "quantitative", "scale": {"domain": [0.05, 0.8], "nice": false, "zero": false}, "axis": {"values": [0.1,0.2,0.3,0.4,0.5,0.6,0.7], "labels": false, "title": null}},
    "y": {"field": "y", "type": "quantitative", "scale": {"domain": [0, 40], "nice": false}, "axis": {"values": [5,10,15,20,25,30,35], "labels": false, "title": null}},
    "color": {"field": "s", "type": "nominal", "scale": {"domain": ["Read noise","Shot noise","Saturation","Rounding","Combined"], "range": ["#0072BD","#D95319","#EDB120","#7E2F8E","#000000"]},
      "legend": {"orient": "top-left", "title": null, "symbolType": "stroke", "symbolSize": 330, "symbolStrokeWidth": 2, "labelFontSize": 12.5, "labelOffset": 6, "labelColor": "#262626", "strokeColor": "#444", "fillColor": "white", "padding": 4, "offset": 6, "rowPadding": -2}},
    "strokeWidth": {"field": "s", "type": "nominal", "scale": {"domain": ["Read noise","Shot noise","Saturation","Rounding","Combined"], "range": [1.3,1.3,1.3,1.3,1.8]},
      "legend": {"orient": "top-left", "title": null, "symbolType": "stroke", "symbolSize": 330, "labelFontSize": 12.5, "labelOffset": 6, "labelColor": "#262626", "strokeColor": "#444", "fillColor": "white", "padding": 4, "offset": 6, "rowPadding": -2}}
   }},
  {"title": {"text": "E", "anchor": "start", "frame": "group", "dx": -12, "offset": -4, "fontSize": 16, "fontWeight": "bold"},
   "width": 211, "height": 206,
   "transform": [{"filter": "datum.p === 'E'"}],
   "mark": {"type": "line", "clip": true},
   "encoding": {
    "x": {"field": "x", "type": "quantitative", "scale": {"domain": [0.05, 0.8], "nice": false, "zero": false}, "axis": {"values": [0.1,0.2,0.3,0.4,0.5,0.6,0.7], "labels": false, "title": null}},
    "y": {"field": "y", "type": "quantitative", "scale": {"domain": [0, 40], "nice": false}, "axis": {"values": [5,10,15,20,25,30,35], "labels": false, "title": null}},
    "color": {"field": "s", "type": "nominal", "scale": {"domain": ["Read noise","Shot noise","Saturation","Rounding","Combined"], "range": ["#0072BD","#D95319","#EDB120","#7E2F8E","#000000"]}, "legend": null},
    "strokeWidth": {"field": "s", "type": "nominal", "scale": {"domain": ["Read noise","Shot noise","Saturation","Rounding","Combined"], "range": [1.3,1.3,1.3,1.3,1.8]}, "legend": null}
   }},
  {"title": {"text": "H", "anchor": "start", "frame": "group", "dx": -13, "offset": -4, "fontSize": 16, "fontWeight": "bold"},
   "width": 211, "height": 206,
   "transform": [{"filter": "datum.p === 'H'"}],
   "mark": {"type": "line", "clip": true},
   "encoding": {
    "x": {"field": "x", "type": "quantitative", "scale": {"domain": [0.05, 0.8], "nice": false, "zero": false}, "axis": {"values": [0.1,0.2,0.3,0.4,0.5,0.6,0.7], "format": ".1f", "title": "<I>/Iₘₐₓ", "titleFontSize": 15, "titlePadding": 4, "labelPadding": 1}},
    "y": {"field": "y", "type": "quantitative", "scale": {"domain": [0, 40], "nice": false}, "axis": {"values": [5,10,15,20,25,30,35], "labels": false, "title": null}},
    "color": {"field": "s", "type": "nominal", "scale": {"domain": ["Read noise","Shot noise","Saturation","Rounding","Combined"], "range": ["#0072BD","#D95319","#EDB120","#7E2F8E","#000000"]}, "legend": null},
    "strokeWidth": {"field": "s", "type": "nominal", "scale": {"domain": ["Read noise","Shot noise","Saturation","Rounding","Combined"], "range": [1.3,1.3,1.3,1.3,1.8]}, "legend": null}
   }}
 ]},
 {"title": {"text": "High-quality camera", "anchor": "middle", "frame": "bounds", "dx": 5, "fontSize": 16, "fontWeight": "normal", "color": "#262626", "offset": -4},
  "bounds": "flush", "spacing": 17,
  "resolve": {"scale": {"color": "independent", "strokeWidth": "independent"}, "legend": {"color": "independent", "strokeWidth": "independent"}},
  "vconcat": [
  {"title": {"text": "C", "anchor": "start", "frame": "group", "dx": -10, "offset": -4, "fontSize": 16, "fontWeight": "bold"},
   "width": 211, "height": 206,
   "transform": [{"filter": "datum.p === 'C'"}],
   "mark": {"type": "line", "clip": true},
   "encoding": {
    "x": {"field": "x", "type": "quantitative", "scale": {"domain": [0.05, 0.8], "nice": false, "zero": false}, "axis": {"values": [0.1,0.2,0.3,0.4,0.5,0.6,0.7], "labels": false, "title": null}},
    "y": {"field": "y", "type": "quantitative", "scale": {"domain": [0, 40], "nice": false}, "axis": {"values": [5,10,15,20,25,30,35], "labels": false, "title": null}},
    "color": {"field": "s", "type": "nominal", "scale": {"domain": ["Read noise","Shot noise","Saturation","Rounding","Combined"], "range": ["#0072BD","#D95319","#EDB120","#7E2F8E","#000000"]}, "legend": null},
    "strokeWidth": {"field": "s", "type": "nominal", "scale": {"domain": ["Read noise","Shot noise","Saturation","Rounding","Combined"], "range": [1.3,1.3,1.3,1.3,1.8]}, "legend": null}
   }},
  {"title": {"text": "F", "anchor": "start", "frame": "group", "dx": -10, "offset": -4, "fontSize": 16, "fontWeight": "bold"},
   "width": 211, "height": 206,
   "transform": [{"filter": "datum.p === 'F'"}],
   "mark": {"type": "line", "clip": true},
   "encoding": {
    "x": {"field": "x", "type": "quantitative", "scale": {"domain": [0.05, 0.8], "nice": false, "zero": false}, "axis": {"values": [0.1,0.2,0.3,0.4,0.5,0.6,0.7], "labels": false, "title": null}},
    "y": {"field": "y", "type": "quantitative", "scale": {"domain": [0, 40], "nice": false}, "axis": {"values": [5,10,15,20,25,30,35], "labels": false, "title": null}},
    "color": {"field": "s", "type": "nominal", "scale": {"domain": ["Read noise","Shot noise","Saturation","Rounding","Combined"], "range": ["#0072BD","#D95319","#EDB120","#7E2F8E","#000000"]}, "legend": null},
    "strokeWidth": {"field": "s", "type": "nominal", "scale": {"domain": ["Read noise","Shot noise","Saturation","Rounding","Combined"], "range": [1.3,1.3,1.3,1.3,1.8]}, "legend": null}
   }},
  {"title": {"text": "I", "anchor": "start", "frame": "group", "dx": -10, "offset": -4, "fontSize": 16, "fontWeight": "bold"},
   "width": 211, "height": 206,
   "transform": [{"filter": "datum.p === 'I'"}],
   "mark": {"type": "line", "clip": true},
   "encoding": {
    "x": {"field": "x", "type": "quantitative", "scale": {"domain": [0.05, 0.8], "nice": false, "zero": false}, "axis": {"values": [0.1,0.2,0.3,0.4,0.5,0.6,0.7], "format": ".1f", "title": "<I>/Iₘₐₓ", "titleFontSize": 15, "titlePadding": 4, "labelPadding": 1}},
    "y": {"field": "y", "type": "quantitative", "scale": {"domain": [0, 40], "nice": false}, "axis": {"values": [5,10,15,20,25,30,35], "labels": false, "title": null}},
    "color": {"field": "s", "type": "nominal", "scale": {"domain": ["Read noise","Shot noise","Saturation","Rounding","Combined"], "range": ["#0072BD","#D95319","#EDB120","#7E2F8E","#000000"]}, "legend": null},
    "strokeWidth": {"field": "s", "type": "nominal", "scale": {"domain": ["Read noise","Shot noise","Saturation","Rounding","Combined"], "range": [1.3,1.3,1.3,1.3,1.8]}, "legend": null}
   }}
 ]}
]
}
